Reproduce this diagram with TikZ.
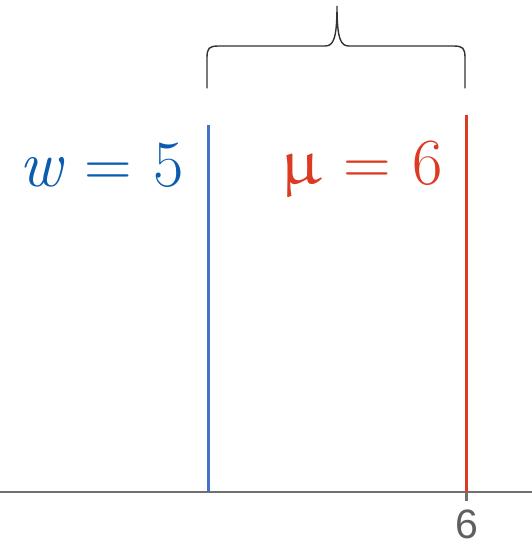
\documentclass[tikz,border=0pt]{standalone}
\usepackage{amsmath}
\usepackage{upgreek}
\usepackage{fontspec}
\newfontfamily\axisfont{Liberation Sans}
\usepackage{tikz}
\usetikzlibrary{positioning,calc}
\definecolor{axisgray}{HTML}{707070}
\definecolor{wblue}{HTML}{4472C4}
\definecolor{wtext}{HTML}{0B5CB0}
\definecolor{mured}{HTML}{DC3A23}
\newcommand{\eqsp}{\hspace{0.33em}=\hspace{0.33em}}

\begin{document}
\begin{tikzpicture}[x=1pt,y=1pt,
  vline/.style={line width=3pt},
  lbl/.style={anchor=base,inner sep=0pt,font=\fontsize{66}{66}\selectfont},
  brace/.style={line width=1.4pt,draw=black!80,line cap=round}
]
\useasboundingbox (0,0) rectangle (532,546);
% axis and tick
\coordinate (ax0) at (0,54);
\coordinate (ax1) at (532,54);
\draw[axisgray,line width=2pt] (ax0) -- (ax1);
\coordinate (tk) at (466,54);
\coordinate (tkb) at (466,45);
\draw[axisgray,line width=3pt] (tk) -- (tkb);
\node[font=\axisfont\fontsize{41}{41}\selectfont,text=axisgray!85!black,anchor=base,inner sep=0pt] (six) at (467,8) {6};
% the two values
\coordinate (wtop) at (208,421);
\coordinate (wbot) at (208,54);
\draw[vline,wblue] (wtop) -- (wbot);
\coordinate (mtop) at (466,431);
\draw[vline,mured] (mtop) -- (tk);
\node[lbl,text=wtext] (wlbl) at (102,359) {{\itshape w}\eqsp 5};
\node[lbl,text=mured] (mulbl) at (362,361) {$\upmu$\eqsp 6};
% brace over the gap
\coordinate (bl) at (207,458);
\coordinate (br) at (465,458);
\coordinate (tip) at (337,540);
\draw[brace] (bl) -- (207,488) .. controls (207,498) and (209,500) .. (219,500)
  -- (325,500) .. controls (333,500) and (337,506) .. (tip)
  .. controls (337,506) and (341,500) .. (349,500)
  -- (453,500) .. controls (463,500) and (465,498) .. (465,488) -- (br);
\end{tikzpicture}
\end{document}
